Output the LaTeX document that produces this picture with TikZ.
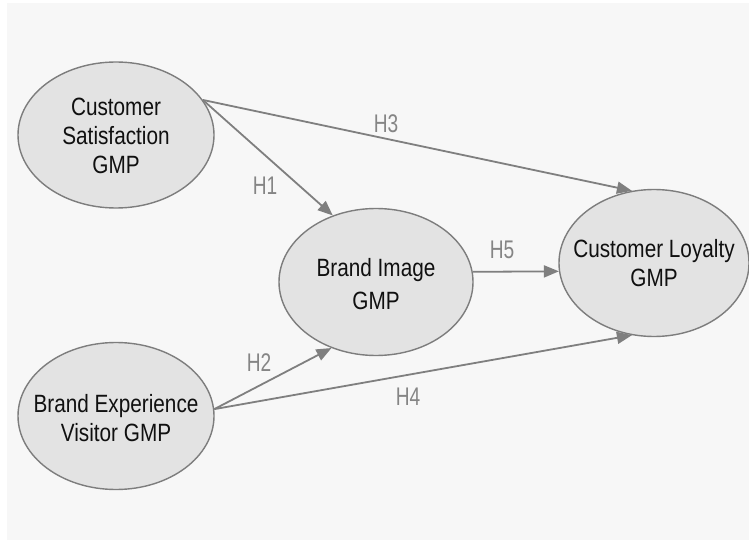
\documentclass[tikz,border=0pt]{standalone}
\usepackage{fontspec}
\setmainfont{Liberation Sans}
\newfontfamily\nodefont[FakeStretch=0.83]{Liberation Sans}
\newfontfamily\labfont[FakeStretch=0.75]{Liberation Sans}
\usetikzlibrary{shapes.geometric,arrows.meta}
\definecolor{bgc}{HTML}{F7F7F7}
\definecolor{ellfill}{HTML}{E3E3E3}
\definecolor{ellline}{HTML}{7D7D7D}
\definecolor{arrc}{HTML}{7F7F7F}
\definecolor{labc}{HTML}{858585}
\definecolor{txtc}{HTML}{101010}
\tikzset{
  ell/.style={ellipse, draw=ellline, fill=ellfill, line width=1.4pt, inner sep=0pt,
    minimum width=#1},
  ell/.default=196pt,
  txt/.style={align=center, text=txtc, font=\nodefont\fontsize{25}{29}\selectfont, inner sep=0pt},
  lab/.style={text=labc, font=\labfont\fontsize{25.5}{27}\selectfont, inner sep=0pt},
  conn/.style={draw=arrc, line width=1.8pt, -{Triangle[length=15pt,width=12pt]}},
}
\begin{document}
\begin{tikzpicture}[x=1pt,y=-1pt]
\useasboundingbox (0,0) rectangle (749,540);
\fill[white] (0,0) rectangle (749,540);
\fill[bgc] (7,3) rectangle (749,540);
% ellipses
\node[ell, minimum height=146pt] (cs) at (116,135) {};
\node[ell, minimum height=147pt] (be) at (116,416) {};
\node[ell=194pt, minimum height=147pt] (bi) at (376,282) {};
\node[ell=190pt, minimum height=147pt] (cl) at (654,263) {};
% texts
\node[txt] (cst) at (116,136) {Customer\\Satisfaction\\GMP};
\node[txt] (bet) at (116,418) {Brand Experience\\Visitor GMP};
\node[txt, font=\nodefont\fontsize{25}{32.5}\selectfont] (bit) at (376,284) {Brand Image\\GMP};
\node[txt] (clt) at (654,263) {Customer Loyalty\\GMP};
% connectors
\draw[conn] (cs.22) -- (cl.107);
\draw[conn] (cs.22) -- (bi.123);
\draw[conn] (be.4) -- (bi.236);
\draw[conn] (be.4) -- (cl.253);
\draw[conn] (bi.6) -- (cl.185);
% labels
\node[lab] (h3) at (386,124) {H3};
\node[lab] (h1) at (265,186) {H1};
\node[lab] (h5) at (502,250) {H5};
\node[lab] (h2) at (259,363) {H2};
\node[lab] (h4) at (408,397) {H4};
\end{tikzpicture}
\end{document}
